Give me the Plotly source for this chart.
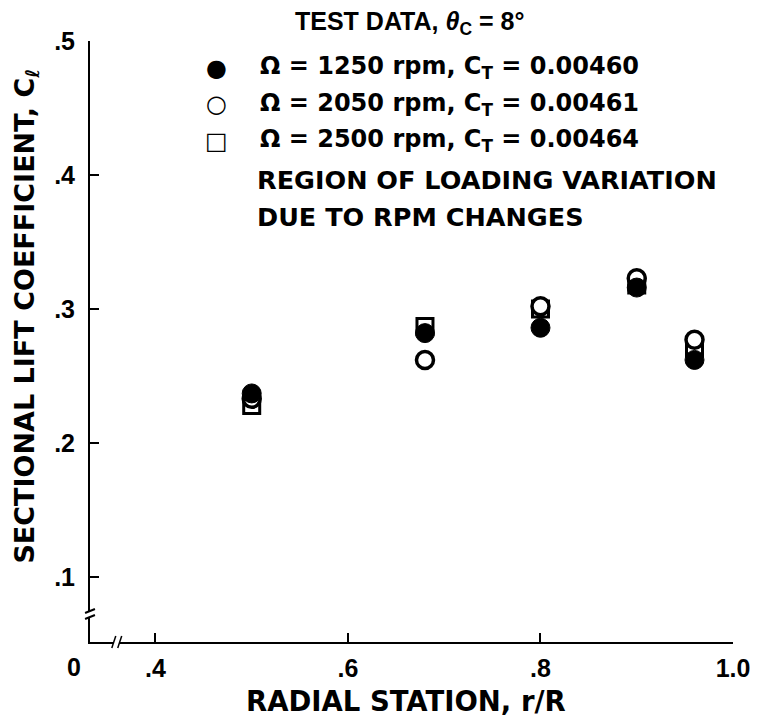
import plotly.graph_objects as go

# ---- data ----
r_stations = [0.50, 0.68, 0.80, 0.90, 0.96]
cl_1250 = [0.237, 0.282, 0.286, 0.316, 0.262]   # filled circles
cl_2050 = [0.233, 0.262, 0.302, 0.323, 0.277]   # open circles
cl_2500 = [0.228, 0.287, 0.300, 0.318, 0.271]   # open squares

x_tickvals = [0.4, 0.6, 0.8, 1.0]
x_ticktext = [".4", ".6", ".8", "1.0"]
y_tickvals = [0.1, 0.2, 0.3, 0.4, 0.5]
y_ticktext = [".1", ".2", ".3", ".4", ".5"]

legend_labels = [
    "Ω = 1250 rpm, C<sub>T</sub> = 0.00460",
    "Ω = 2050 rpm, C<sub>T</sub> = 0.00461",
    "Ω = 2500 rpm, C<sub>T</sub> = 0.00464",
]
legend_glyphs = ["●", "○", "□"]

FONT = "Liberation Sans"
WIDE = "DejaVu Sans"
W, H = 762, 721
L, R, T, B = 90, 23, 41, 79
x_range = [0.332, 1.0]
y_range = [0.0515, 0.5]


def px(x):
    return (x - L) / (W - L - R)


def py(y):
    return (H - B - y) / (H - T - B)


fig = go.Figure()
fig.add_trace(go.Scatter(
    x=r_stations, y=cl_2500, mode="markers", name="2500",
    marker=dict(symbol="square", size=16, color="white",
                line=dict(color="black", width=3)),
))
fig.add_trace(go.Scatter(
    x=r_stations, y=cl_2050, mode="markers", name="2050",
    marker=dict(symbol="circle", size=17, color="white",
                line=dict(color="black", width=3.5)),
))
fig.add_trace(go.Scatter(
    x=r_stations, y=cl_1250, mode="markers", name="1250",
    marker=dict(symbol="circle", size=19, color="black",
                line=dict(color="black", width=1)),
))

tickfont = dict(family=FONT, size=25, color="black")
fig.update_xaxes(
    range=x_range, showgrid=False, zeroline=False,
    showline=True, linecolor="black", linewidth=2,
    ticks="inside", ticklen=9, tickwidth=2, tickcolor="black",
    tickvals=x_tickvals, ticktext=["<b>%s</b>" % t for t in x_ticktext],
    tickfont=tickfont, ticklabelstandoff=3,
)
fig.update_yaxes(
    range=y_range, showgrid=False, zeroline=False,
    showline=True, linecolor="black", linewidth=2,
    ticks="inside", ticklen=9, tickwidth=2, tickcolor="black",
    tickvals=y_tickvals, ticktext=["<b>%s</b>" % t for t in y_ticktext],
    tickfont=tickfont, ticklabelstandoff=8,
)

ann = []
# origin label
ann.append(dict(x=px(74), y=py(667), xref="paper", yref="paper",
                text="<b>0</b>", showarrow=False, font=tickfont,
                xanchor="center", yanchor="middle"))
# axis titles
ann.append(dict(x=px(409), y=py(701), xref="paper", yref="paper",
                text="<b>RADIAL STATION, r/R</b>", showarrow=False,
                font=dict(family=WIDE, size=27.5, color="black"),
                xanchor="center", yanchor="middle"))
ann.append(dict(x=px(25), y=py(316), xref="paper", yref="paper",
                text="<b>SECTIONAL LIFT COEFFICIENT, C<sub>ℓ</sub></b>",
                showarrow=False, textangle=-90,
                font=dict(family=WIDE, size=27, color="black"),
                xanchor="center", yanchor="middle"))
# legend block
lf = dict(family=WIDE, size=24, color="black")
lf2 = dict(family=WIDE, size=25.5, color="black")
ann.append(dict(x=px(412), y=py(23), xref="paper", yref="paper",
                text="<b>TEST DATA, <i>θ</i><sub>C</sub> = 8°</b>",
                showarrow=False, font=dict(family=FONT, size=25, color="black"),
                xanchor="center", yanchor="middle"))
row_y = [68, 104, 141]
for g, lab, yy in zip(legend_glyphs, legend_labels, row_y):
    ann.append(dict(x=px(218), y=py(yy), xref="paper", yref="paper",
                    text="<b>%s</b>" % g, showarrow=False,
                    font=dict(family="DejaVu Sans", size=24, color="black"),
                    xanchor="center", yanchor="middle"))
    ann.append(dict(x=px(260), y=py(yy), xref="paper", yref="paper",
                    text="<b>%s</b>" % lab, showarrow=False, font=lf,
                    xanchor="left", yanchor="middle"))
ann.append(dict(x=px(257), y=py(180), xref="paper", yref="paper",
                text="<b>REGION OF LOADING VARIATION</b>", showarrow=False,
                font=lf2, xanchor="left", yanchor="middle"))
ann.append(dict(x=px(257), y=py(217), xref="paper", yref="paper",
                text="<b>DUE TO RPM CHANGES</b>", showarrow=False,
                font=lf2, xanchor="left", yanchor="middle"))

# axis break marks
shapes = []
shapes.append(dict(type="rect", xref="paper", yref="paper",
                   x0=px(87), x1=px(93), y0=py(617), y1=py(611),
                   fillcolor="white", line=dict(width=0)))
for dy in (-3, 3):
    shapes.append(dict(type="line", xref="paper", yref="paper",
                       x0=px(85), x1=px(95), y0=py(614 + dy + 2), y1=py(614 + dy - 2),
                       line=dict(color="black", width=2)))
shapes.append(dict(type="rect", xref="paper", yref="paper",
                   x0=px(114), x1=px(120), y0=py(645), y1=py(639),
                   fillcolor="white", line=dict(width=0)))
for dx in (-3, 3):
    shapes.append(dict(type="line", xref="paper", yref="paper",
                       x0=px(117 + dx - 2), x1=px(117 + dx + 2), y0=py(648), y1=py(636),
                       line=dict(color="black", width=1.5)))

fig.update_layout(
    width=W, height=H, margin=dict(l=L, r=R, t=T, b=B),
    paper_bgcolor="white", plot_bgcolor="white",
    showlegend=False, annotations=ann, shapes=shapes,
    font=dict(family=FONT, color="black"),
)

fig.write_html("out.html", config={"displayModeBar": False},
               post_script="document.body.style.margin='0';")
